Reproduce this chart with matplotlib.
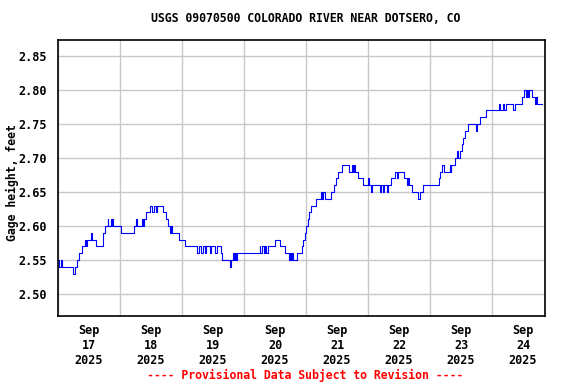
import matplotlib
matplotlib.use("Agg")
import matplotlib.pyplot as plt
import matplotlib.dates as mdates
import pandas as pd

# ========== DATA ==========
# hours since 2025-09-17 00:00 where the gage height changes, and the new value
change_hours = [
    0.0, 0.4, 1.3, 1.7, 5.8, 6.5, 7.3, 8.3, 9.4, 10.6, 11.0, 11.3, 12.7, 13.0,
    14.7, 17.3, 17.6, 18.0, 19.2, 19.5, 20.4, 20.8, 21.0, 21.3, 24.5, 29.4,
    30.2, 30.5, 32.4, 32.9, 33.2, 34.0, 35.5, 36.3, 37.3, 37.8, 38.3, 40.6,
    41.7, 42.7, 43.5, 43.8, 44.0, 46.8, 49.2, 53.8, 54.6, 55.4, 56.1, 56.9,
    57.4, 58.7, 59.2, 60.8, 61.5, 63.1, 63.4, 66.5, 67.0, 67.6, 68.0, 68.4,
    68.8, 69.2, 78.0, 78.3, 79.0, 79.6, 80.2, 80.6, 81.3, 83.9, 86.1, 87.7,
    89.3, 89.8, 90.2, 90.6, 91.0, 92.6, 94.5, 95.0, 95.5, 96.0, 96.6, 97.2,
    97.8, 99.7, 101.9, 102.3, 102.6, 103.2, 105.8, 106.7, 107.5, 108.5, 109.8,
    112.6, 113.8, 114.3, 114.7, 115.0, 116.1, 118.0, 119.8, 120.3, 121.0,
    121.4, 124.7, 125.2, 125.7, 126.3, 127.2, 127.7, 128.9, 130.3, 131.2,
    131.7, 133.8, 135.0, 135.5, 135.8, 136.9, 139.5, 140.3, 141.2, 147.6,
    148.0, 148.8, 149.6, 151.6, 152.0, 152.2, 153.7, 154.6, 155.0, 155.7,
    156.3, 156.9, 157.4, 158.6, 161.8, 162.2, 163.3, 165.7, 170.8, 171.2,
    172.3, 172.7, 173.4, 176.3, 176.9, 179.5, 180.4, 181.2, 181.6, 182.0,
    182.4, 183.6, 184.6, 185.1, 185.4, 187.5,
]
gage_height = [
    2.55, 2.54, 2.55, 2.54, 2.53, 2.54, 2.55, 2.56, 2.57, 2.58, 2.57, 2.58, 2.59, 2.58,
    2.57, 2.58, 2.59, 2.60, 2.61, 2.60, 2.61, 2.60, 2.61, 2.60, 2.59, 2.60,
    2.61, 2.60, 2.61, 2.60, 2.61, 2.62, 2.63, 2.62, 2.63, 2.62, 2.63, 2.62,
    2.61, 2.60, 2.59, 2.60, 2.59, 2.58, 2.57, 2.56, 2.57, 2.56, 2.57, 2.56,
    2.57, 2.56, 2.57, 2.56, 2.57, 2.56, 2.55, 2.54, 2.55, 2.56, 2.55, 2.56,
    2.55, 2.56, 2.57, 2.56, 2.57, 2.56, 2.57, 2.56, 2.57, 2.58, 2.57, 2.56,
    2.55, 2.56, 2.55, 2.56, 2.55, 2.56, 2.57, 2.58, 2.59, 2.60, 2.61, 2.62,
    2.63, 2.64, 2.65, 2.64, 2.65, 2.64, 2.65, 2.66, 2.67, 2.68, 2.69,
    2.68, 2.69, 2.68, 2.69, 2.68, 2.67, 2.66, 2.67, 2.66, 2.65,
    2.66, 2.65, 2.66, 2.65, 2.66, 2.65, 2.66, 2.67, 2.68, 2.67,
    2.68, 2.67, 2.66, 2.67, 2.66, 2.65, 2.64, 2.65, 2.66, 2.67,
    2.68, 2.69, 2.68, 2.69, 2.68, 2.69, 2.70, 2.71, 2.70, 2.71,
    2.72, 2.73, 2.74, 2.75, 2.74, 2.75, 2.76, 2.77, 2.78, 2.77,
    2.78, 2.77, 2.78, 2.77, 2.78, 2.79, 2.80, 2.79, 2.80, 2.79,
    2.80, 2.79, 2.78, 2.79, 2.78, 2.78,
]
start = pd.Timestamp("2025-09-17 00:00")
end_hours = 188.5

title = "USGS 09070500 COLORADO RIVER NEAR DOTSERO, CO"
ylabel = "Gage height, feet"
footer = "---- Provisional Data Subject to Revision ----"
yticks = [2.50, 2.55, 2.60, 2.65, 2.70, 2.75, 2.80, 2.85]

# ========== PLOT ==========
plt.rcParams["font.family"] = "DejaVu Sans Mono"
plt.rcParams["font.weight"] = "bold"

times = start + pd.to_timedelta(change_hours, unit="h")

fig = plt.figure(figsize=(5.76, 3.84), dpi=100)
ax = fig.add_axes([58 / 576, 1 - 316 / 384, (545 - 58) / 576, (316 - 40) / 384])

ax.plot(times, gage_height, drawstyle="steps-post", color="#0000ff", lw=0.8)

ax.set_xlim(start, start + pd.Timedelta(hours=end_hours))
ax.set_ylim(2.4676, 2.8735)
ax.set_yticks(yticks)
ax.set_yticklabels([f"{v:.2f}" for v in yticks])

# gridlines at midnight, labels at noon
ax.xaxis.set_major_locator(mdates.DayLocator())
ax.xaxis.set_major_formatter(plt.NullFormatter())
ax.xaxis.set_minor_locator(mdates.HourLocator(byhour=[12]))
ax.xaxis.set_minor_formatter(mdates.DateFormatter("%b\n%d\n%Y"))
ax.grid(True, which="major", color="#c8c8c8", lw=1.0)
ax.set_axisbelow(True)

ax.tick_params(axis="both", which="both", length=0, labelsize=8.5)
ax.tick_params(axis="x", which="minor", pad=6)
ax.tick_params(axis="y", pad=8)
for lab in ax.get_xticklabels(minor=True):
    lab.set_linespacing(1.2)

for sp in ax.spines.values():
    sp.set_linewidth(1.2)

fig.text(306 / 576, 1 - 19 / 384, title, ha="center", va="center", fontsize=8.3, fontweight="bold")
fig.text(12 / 576, 1 - 183 / 384, ylabel, ha="center", va="center", rotation=90,
         fontsize=8.3, fontweight="bold")
fig.text(305 / 576, 1 - 375 / 384, footer, ha="center", va="center", color="red",
         fontsize=8.3, fontweight="bold")

fig.savefig("out.png", dpi=100)
